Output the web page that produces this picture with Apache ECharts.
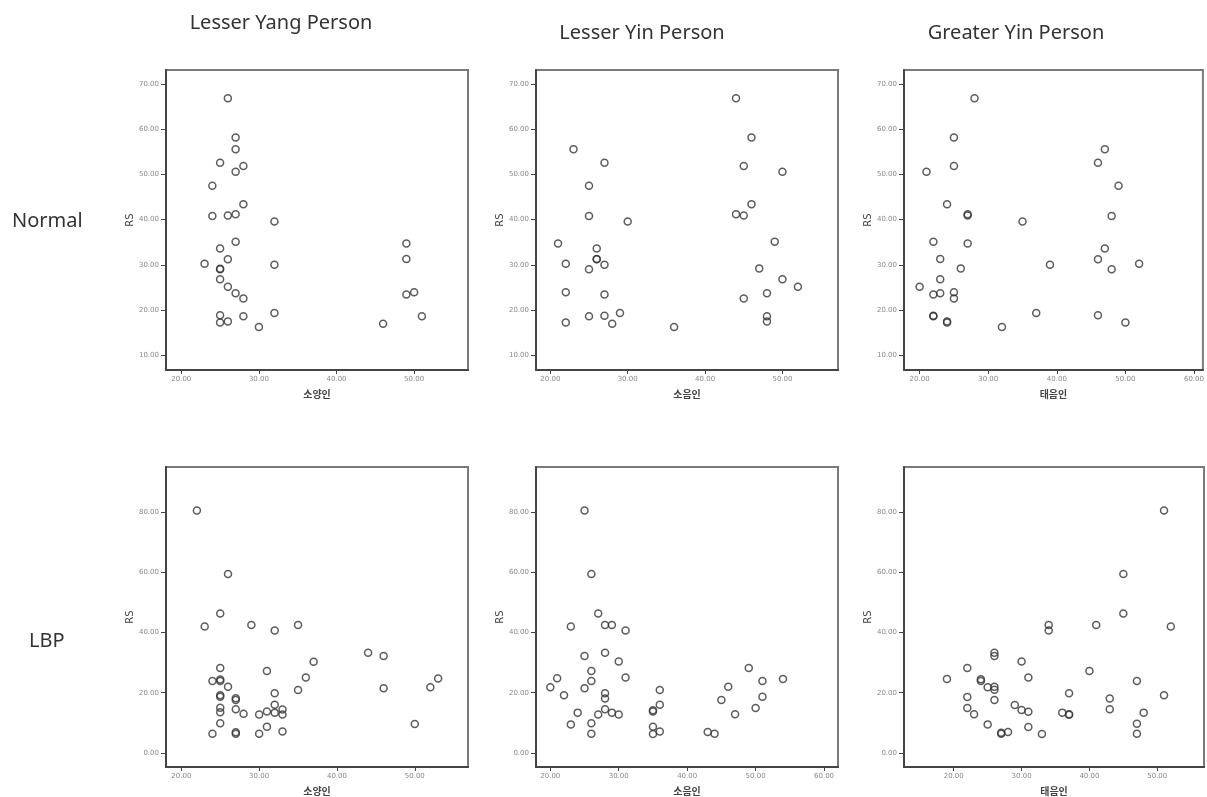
<!DOCTYPE html>
<html>
<head>
<meta charset="utf-8">
<script src="https://cdn.jsdelivr.net/npm/echarts@6/dist/echarts.min.js"></script>
<style>
html,body{margin:0;padding:0;background:#fff;}
#chart{width:1207px;height:797px;}
</style>
</head>
<body>
<div id="chart"></div>
<script>
// ---- Data ----
var colTitles = ['Lesser Yang Person', 'Lesser Yin Person', 'Greater Yin Person'];
var rowTitles = ['Normal', 'LBP'];
var xNames = ['소양인', '소음인', '태음인'];
var yName = 'RS';

// Normal row
var n1x = [26,27,27,25,28,27,24,28,24,26,27,32,27,25,26,23,25,25,32,25,26,27,28,25,28,32,25,26,30,49,49,49,50,46,51];
var n1y = [66.9,58.2,55.6,52.6,51.9,50.6,47.5,43.4,40.8,40.9,41.2,39.6,35.1,33.6,31.2,30.2,29.1,29.0,30.0,26.8,25.1,23.7,22.5,18.8,18.6,19.3,17.2,17.45,16.2,34.7,31.3,23.4,23.9,16.9,18.6];
var n2x = [44,46,23,27,45,50,25,46,25,44,45,30,21,49,26,26,26,22,27,25,47,50,52,22,27,48,45,25,27,29,22,28,36,48,48];
var n2y = [66.9,58.2,55.6,52.6,51.9,50.6,47.5,43.4,40.8,41.2,40.9,39.6,34.7,35.1,33.6,31.3,31.2,30.2,30.0,29.0,29.2,26.8,25.1,23.9,23.4,23.7,22.5,18.6,18.7,19.3,17.2,16.9,16.2,18.6,17.45];
var n3x = [28,25,47,21,25,46,49,24,27,27,35,48,22,27,47,23,46,39,52,26,48,23,20,22,23,25,25,22,22,37,46,24,24,50,32];
var n3y = [66.9,58.2,55.6,50.6,51.9,52.6,47.5,43.4,41.2,40.9,39.6,40.8,35.1,34.7,33.6,31.3,31.2,30.0,30.2,29.2,29.0,26.8,25.1,23.4,23.7,23.9,22.5,18.6,18.7,19.3,18.8,17.2,17.45,17.2,16.2];

// LBP row
var l1x = [22,26,25,23,29,32,35,44,46,37,25,31,36,24,25,25,53,52,46,26,35,32,25,25,27,27,32,25,25,27,28,30,31,32,33,33,25,24,27,27,30,31,33,50];
var l1y = [80.5,59.4,46.3,42.0,42.5,40.7,42.5,33.3,32.2,30.3,28.2,27.2,25.1,23.9,24.4,23.9,24.7,21.8,21.5,22.0,20.9,19.8,19.2,18.7,18.2,17.6,16.0,15.0,13.5,14.5,13.0,12.8,13.8,13.4,14.4,12.8,9.85,6.4,6.9,6.4,6.4,8.7,7.1,9.6];
var l2x = [25,26,27,23,28,29,31,28,25,30,26,31,21,20,25,26,22,28,28,36,24,28,29,27,30,23,26,26,35,35,36,35,35,36,43,44,45,46,47,49,51,51,50,54];
var l2y = [80.5,59.4,46.3,42.0,42.5,42.5,40.7,33.3,32.2,30.4,27.2,25.1,24.8,21.8,21.5,23.9,19.2,19.8,18.1,20.9,13.4,14.5,13.4,12.8,12.8,9.5,9.85,6.4,14.2,13.8,16.0,8.7,6.3,7.1,7.0,6.4,17.6,22.0,12.9,28.2,23.9,18.7,14.9,24.6];
var l3x = [51,45,45,34,34,41,52,26,26,30,22,40,31,19,24,24,25,26,26,47,22,26,37,43,51,22,23,29,30,31,36,37,37,43,48,25,27,27,28,31,33,47,47];
var l3y = [80.5,59.4,46.3,42.5,40.7,42.5,42.0,33.3,32.2,30.4,28.2,27.2,25.1,24.6,24.5,23.9,21.8,22.0,21.0,23.9,18.6,17.6,19.8,18.1,19.2,14.9,12.9,15.9,14.3,13.7,13.4,12.9,12.7,14.5,13.4,9.5,6.7,6.4,7.0,8.6,6.3,9.7,6.4];

// Tick labels
var xTicks1 = [20, 30, 40, 50];
var xTicks2 = [20, 30, 40, 50, 60];
var yTicksNormal = [10, 20, 30, 40, 50, 60, 70];
var yTicksLBP = [0, 20, 40, 60, 80];

// ---- Layout (panels) ----
var panels = [
  {xs: n1x, ys: n1y, xn: xNames[0], grid: {left: 166, top: 70, width: 302, height: 300}, xr: [18.03, 56.94], yr: [6.67, 73.18], xt: xTicks1, yt: yTicksNormal},
  {xs: n2x, ys: n2y, xn: xNames[1], grid: {left: 536, top: 70, width: 302, height: 300}, xr: [18.15, 57.18], yr: [6.67, 73.18], xt: xTicks1, yt: yTicksNormal},
  {xs: n3x, ys: n3y, xn: xNames[2], grid: {left: 904, top: 70, width: 300, height: 300}, xr: [17.72, 61.3], yr: [6.67, 73.18], xt: xTicks2, yt: yTicksNormal},
  {xs: l1x, ys: l1y, xn: xNames[0], grid: {left: 166, top: 467, width: 302, height: 300}, xr: [18.03, 56.84], yr: [-4.65, 94.94], xt: xTicks1, yt: yTicksLBP},
  {xs: l2x, ys: l2y, xn: xNames[1], grid: {left: 536, top: 467, width: 302, height: 300}, xr: [17.91, 62.04], yr: [-4.65, 94.94], xt: xTicks2, yt: yTicksLBP},
  {xs: l3x, ys: l3y, xn: xNames[2], grid: {left: 904, top: 467, width: 300, height: 300}, xr: [12.67, 56.89], yr: [-4.65, 94.94], xt: xTicks1, yt: yTicksLBP}
];

function zip(a, b) { return a.map(function (v, i) { return [v, b[i]]; }); }
function fmt(v) { return Number(v).toFixed(2); }

var grids = [], xAxes = [], yAxes = [], series = [];
panels.forEach(function (p, i) {
  grids.push(Object.assign({show: true, borderColor: '#7a7a7a', borderWidth: 2, backgroundColor: '#fff'}, p.grid));
  xAxes.push({
    type: 'value', gridIndex: i, min: p.xr[0], max: p.xr[1],
    name: p.xn, nameLocation: 'middle', nameGap: 19,
    nameTextStyle: {fontSize: 10, fontWeight: 'bold', color: '#444', fontFamily: 'Noto Sans CJK KR'},
    splitLine: {show: false},
    axisLine: {show: true, onZero: false, lineStyle: {color: '#444', width: 2}},
    axisTick: {show: true, customValues: p.xt, length: 4, lineStyle: {color: '#444', width: 1}},
    axisLabel: {customValues: p.xt, formatter: fmt, fontSize: 7, color: '#888', margin: 6, fontFamily: 'DejaVu Sans'}
  });
  yAxes.push({
    type: 'value', gridIndex: i, min: p.yr[0], max: p.yr[1],
    name: yName, nameLocation: 'middle', nameGap: 29, nameRotate: 90,
    nameTextStyle: {fontSize: 10, color: '#444', fontFamily: 'DejaVu Sans'},
    splitLine: {show: false},
    axisLine: {show: true, onZero: false, lineStyle: {color: '#444', width: 2}},
    axisTick: {show: true, customValues: p.yt, length: 5, lineStyle: {color: '#444', width: 1}},
    axisLabel: {customValues: p.yt, formatter: fmt, fontSize: 7, color: '#888', margin: 7, fontFamily: 'DejaVu Sans'}
  });
  series.push({
    type: 'scatter', xAxisIndex: i, yAxisIndex: i,
    data: zip(p.xs, p.ys),
    symbol: 'circle', symbolSize: 7,
    itemStyle: {color: 'rgba(0,0,0,0)', borderColor: '#333', borderWidth: 1.5},
    silent: true
  });
});

var titleStyle = {fontSize: 20, fontWeight: 'normal', color: '#333', fontFamily: 'Noto Sans'};
var titles = [
  {text: colTitles[0], left: 276, top: 8, textAlign: 'center', textStyle: titleStyle},
  {text: colTitles[1], left: 637, top: 18, textAlign: 'center', textStyle: titleStyle},
  {text: colTitles[2], left: 1011, top: 18, textAlign: 'center', textStyle: titleStyle},
  {text: rowTitles[0], left: 7, top: 206, textStyle: titleStyle},
  {text: rowTitles[1], left: 24, top: 626, textStyle: titleStyle}
];

var chart = echarts.init(document.getElementById('chart'), null, {renderer: 'canvas'});
chart.setOption({
  animation: false,
  backgroundColor: '#fff',
  title: titles,
  grid: grids,
  xAxis: xAxes,
  yAxis: yAxes,
  series: series
});
</script>
</body>
</html>
